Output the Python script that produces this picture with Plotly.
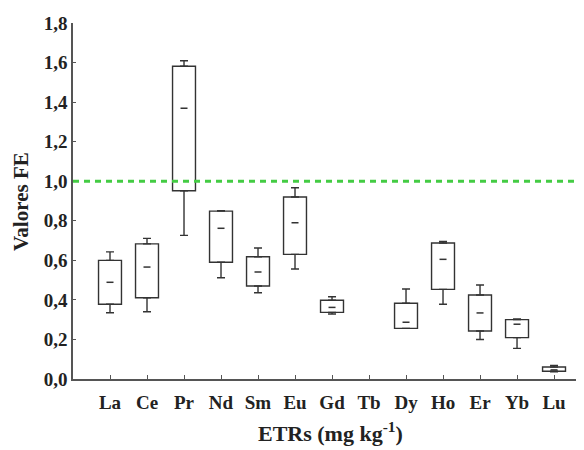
import plotly.graph_objects as go

# Elementos terras raras
elementos = ['La', 'Ce', 'Pr', 'Nd', 'Sm', 'Eu', 'Gd', 'Tb', 'Dy', 'Ho', 'Er', 'Yb', 'Lu']

# estatisticas (Tb sem dados)
minimo  = [0.335, 0.340, 0.726, 0.512, 0.436, 0.556, 0.329, None, 0.256, 0.378, 0.200, 0.155, 0.037]
q1      = [0.378, 0.411, 0.952, 0.590, 0.470, 0.630, 0.337, None, 0.256, 0.453, 0.243, 0.209, 0.039]
mediana = [0.489, 0.566, 1.369, 0.762, 0.541, 0.790, 0.362, None, 0.287, 0.605, 0.334, 0.277, 0.046]
q3      = [0.600, 0.683, 1.581, 0.849, 0.618, 0.920, 0.398, None, 0.383, 0.688, 0.425, 0.300, 0.061]
maximo  = [0.643, 0.711, 1.609, 0.851, 0.662, 0.967, 0.416, None, 0.455, 0.696, 0.475, 0.303, 0.069]

limite = 1.0

idx = [i for i, v in enumerate(mediana) if v is not None]
cats = [elementos[i] for i in idx]
lo = [minimo[i] for i in idx]
b1 = [q1[i] for i in idx]
md = [mediana[i] for i in idx]
b3 = [q3[i] for i in idx]
hi = [maximo[i] for i in idx]

cor = '#333333'
fig = go.Figure()

# caixas q1-q3
fig.add_trace(go.Bar(
    x=cats, base=b1, y=[b - a for a, b in zip(b1, b3)],
    width=0.62,
    marker=dict(color='white', line=dict(color=cor, width=1.4)),
    showlegend=False, hoverinfo='skip',
))

# bigodes superior e inferior
fig.add_trace(go.Scatter(
    x=cats, y=b3, mode='markers', marker=dict(size=1, opacity=0),
    error_y=dict(type='data', symmetric=False, array=[h - q for q, h in zip(b3, hi)],
                 arrayminus=[0] * len(cats), color=cor, thickness=1.4, width=4),
    showlegend=False, hoverinfo='skip',
))
fig.add_trace(go.Scatter(
    x=cats, y=b1, mode='markers', marker=dict(size=1, opacity=0),
    error_y=dict(type='data', symmetric=False, array=[0] * len(cats),
                 arrayminus=[q - l for q, l in zip(b1, lo)], color=cor, thickness=1.4, width=4),
    showlegend=False, hoverinfo='skip',
))

# mediana como traço curto
fig.add_trace(go.Scatter(
    x=cats, y=md, mode='markers',
    marker=dict(symbol='line-ew', size=5, line=dict(color=cor, width=1.5)),
    showlegend=False, hoverinfo='skip',
))

fig.add_shape(type='line', xref='paper', x0=0, x1=1, yref='y', y0=limite, y1=limite,
              line=dict(color='#44cc44', width=3, dash='6px,5px'))

serif = 'Liberation Serif, Times New Roman, serif'
fnt = dict(family=serif, size=19, color='#222222')

# titulos dos eixos
fig.add_annotation(text='<b>ETRs (mg kg<sup>-1</sup>)</b>', xref='paper', yref='paper',
                   x=0.503, y=-0.149, xanchor='center', yanchor='middle', showarrow=False,
                   font=dict(family=serif, size=22, color='#222222'))
fig.add_annotation(text='<b>Valores FE</b>', xref='paper', yref='paper',
                   x=-0.102, y=0.5, xanchor='center', yanchor='middle', textangle=-90,
                   showarrow=False, font=dict(family=serif, size=21, color='#222222'))

yticks = [0, 0.2, 0.4, 0.6, 0.8, 1.0, 1.2, 1.4, 1.6, 1.8]

# a pagina tem margem de 8px no body, por isso 576x442
fig.update_layout(
    width=576, height=442,
    margin=dict(l=65, r=0, t=15, b=71, autoexpand=False),
    paper_bgcolor='white', plot_bgcolor='white',
    font=fnt,
    xaxis=dict(
        type='category', categoryorder='array', categoryarray=elementos,
        tickvals=elementos, ticktext=['<b>%s</b>' % e for e in elementos],
        range=[-1, 12.81], automargin=False,
        showline=True, linecolor='#555555', linewidth=1.5,
        ticks='inside', ticklen=4, tickcolor='#555555',
        showgrid=False, zeroline=False,
        tickfont=fnt, ticklabelstandoff=5,
    ),
    yaxis=dict(
        range=[0, 1.8], automargin=False,
        tickvals=yticks,
        ticktext=['<b>%s</b>' % ('%.1f' % v).replace('.', ',') for v in yticks],
        showline=True, linecolor='#555555', linewidth=1.5,
        ticks='inside', ticklen=3, tickcolor='#555555',
        showgrid=False, zeroline=False,
        tickfont=fnt,
    ),
)

fig.write_html('out.html')
